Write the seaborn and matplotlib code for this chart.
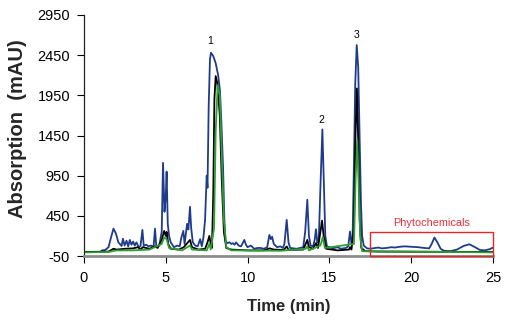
import numpy as np
import pandas as pd
import matplotlib
matplotlib.use("Agg")
import matplotlib.pyplot as plt
import seaborn as sns
from matplotlib.patches import Rectangle

# ---- data ----
blue_t = [0.0, 1.0, 1.1, 1.3, 1.5, 1.65, 1.8, 1.95, 2.1, 2.3, 2.38, 2.48, 2.6, 2.7, 2.8, 2.9,
          3.0, 3.1, 3.2, 3.35, 3.45, 3.57, 3.65, 3.8, 3.95, 4.1, 4.25, 4.34, 4.42, 4.6, 4.75,
          4.83, 4.92, 5.0, 5.05, 5.12, 5.2, 5.3, 5.5, 5.7, 5.85, 5.95, 6.07, 6.15, 6.3, 6.38,
          6.48, 6.55, 6.65, 6.8, 6.95, 7.1, 7.2, 7.3, 7.4, 7.5, 7.55, 7.62, 7.7, 7.76, 7.9,
          8.05, 8.2, 8.31, 8.4, 8.5, 8.58, 8.65, 8.75, 8.9, 9.0, 9.1, 9.2, 9.3, 9.45, 9.6,
          9.8, 9.9, 10.0, 10.2, 10.4, 10.6, 10.8, 11.0, 11.2, 11.33, 11.42, 11.5, 11.6, 11.8,
          12.0, 12.15, 12.25, 12.39, 12.5, 12.6, 12.8, 13.0, 13.2, 13.4, 13.52, 13.65, 13.75,
          13.85, 14.0, 14.1, 14.18, 14.26, 14.35, 14.45, 14.57, 14.67, 14.75, 14.85, 15.0,
          15.2, 15.5, 15.7, 16.0, 16.15, 16.26, 16.35, 16.42, 16.5, 16.58, 16.67, 16.76,
          16.85, 16.93, 17.0, 17.1, 17.3, 17.5, 17.8, 18.0, 18.2, 18.5, 18.8, 19.0, 19.3,
          19.6, 20.0, 20.4, 20.8, 21.1, 21.25, 21.42, 21.6, 21.8, 22.0, 22.4, 22.8, 23.2,
          23.55, 23.9, 24.2, 24.5, 24.8, 25.0]
blue_v = [0, 0, 20, 25, 60, 180, 290, 230, 120, 75, 165, 80, 140, 70, 150, 90,
          130, 80, 120, 60, 70, 275, 80, 90, 70, 80, 60, 290, 70, 80, 250,
          1110, 500, 700, 1000, 350, 200, 120, 60, 80, 70, 180, 262, 100, 350, 280,
          562, 300, 120, 80, 70, 160, 70, 180, 400, 950, 800, 1800, 2400, 2480, 2440,
          2350, 2200, 2010, 1600, 1050, 400, 140, 110, 120, 100, 110, 90, 120, 80, 70,
          150, 90, 60, 80, 40, 50, 50, 40, 60, 212, 160, 190, 100, 60,
          70, 50, 100, 400, 120, 50, 45, 40, 50, 60, 250, 650, 200,
          80, 70, 150, 284, 120, 150, 800, 1525, 800, 200, 70, 60,
          45, 60, 40, 50, 70, 255, 100, 200, 1100, 2100, 2575, 2300,
          1400, 600, 200, 80, 45, 40, 50, 55, 45, 50, 60, 55, 65,
          70, 65, 60, 50, 45, 100, 180, 120, 40, 15, 10, 30, 75,
          96, 60, 25, 20, 35, 55]

black_t = [0, 1.5, 1.8, 2.0, 2.5, 3.0, 3.3, 3.45, 3.6, 4.0, 4.34, 4.5, 4.75, 4.9, 5.0, 5.05,
           5.15, 5.3, 5.8, 6.1, 6.48, 6.6, 7.0, 7.4, 7.55, 7.66, 7.75, 7.82, 7.9, 7.97, 8.05,
           8.15, 8.3, 8.42, 8.55, 8.7, 9.0, 10.0, 11.0, 11.35, 11.6, 12.2, 12.39, 12.5, 13.4,
           13.55, 13.65, 13.75, 14.0, 14.18, 14.3, 14.45, 14.55, 14.65, 14.8, 15.5, 16.2,
           16.26, 16.35, 16.5, 16.6, 16.68, 16.76, 16.85, 16.95, 17.2, 18.0, 25.0]
black_v = [0, 5, 40, 30, 40, 45, 60, 30, 60, 40, 70, 50, 150, 262, 200, 250,
           100, 40, 30, 60, 150, 60, 30, 40, 120, 200, 100, 50, 700, 1900, 2190,
           2100, 1700, 900, 250, 50, 30, 20, 20, 45, 30, 25, 70, 25, 30,
           100, 150, 60, 40, 110, 50, 250, 390, 200, 40, 20, 30,
           60, 30, 300, 1500, 2035, 1400, 400, 50, 10, 5, 0]

green_t = [0, 1.5, 2.0, 3.0, 4.0, 4.75, 4.9, 5.05, 5.2, 6.0, 6.48, 6.6, 7.5, 7.66, 7.75, 7.95,
           8.05, 8.17, 8.3, 8.42, 8.55, 8.7, 9.0, 12.0, 13.55, 13.65, 13.75, 14.45, 14.6,
           14.72, 16.5, 16.6, 16.7, 16.78, 16.88, 17.0, 25.0]
green_v = [-5, 0, 20, 20, 30, 100, 180, 160, 50, 20, 80, 30, 20, 100, 30, 300,
           1500, 2075, 1950, 1200, 400, 60, 20, 15, 40, 70, 20, 80, 187,
           50, 100, 900, 1390, 900, 200, 10, -5]

peak_labels = ["1", "2", "3"]
peak_t = [7.74, 14.53, 16.63]
peak_v = [2625, 1637, 2700]

x_ticks = [0, 5, 10, 15, 20, 25]
y_ticks = [-50, 450, 950, 1450, 1950, 2450, 2950]

box_t = [17.48, 25.0]
box_v = [-50, 245]
box_label = "Phytochemicals"

# ---- figure ----
sns.set_theme(style="white")
plt.rcParams['font.family'] = ['Liberation Sans', 'DejaVu Sans']
plt.rcParams['axes.unicode_minus'] = False

fig = plt.figure(figsize=(5.11, 3.22), dpi=100)
W, H = 511, 322
ax = fig.add_axes([84 / W, 1 - 256 / H, (493 - 84) / W, (256 - 15) / H])

df_b = pd.DataFrame({"t": blue_t, "v": blue_v})
df_k = pd.DataFrame({"t": black_t, "v": black_v})
df_g = pd.DataFrame({"t": green_t, "v": green_v})

sns.lineplot(data=df_b, x="t", y="v", ax=ax, color="#1f3c8c", lw=1.3, estimator=None, sort=False)
sns.lineplot(data=df_k, x="t", y="v", ax=ax, color="#000000", lw=1.3, estimator=None, sort=False)
sns.lineplot(data=df_g, x="t", y="v", ax=ax, color="#2e9e2e", lw=1.3, estimator=None, sort=False)

for lab, t, v in zip(peak_labels, peak_t, peak_v):
    ax.text(t, v, lab, ha="center", va="center", fontsize=7.5, color="black")

ax.add_patch(Rectangle((box_t[0], box_v[0]), box_t[1] - box_t[0], box_v[1] - box_v[0],
                       fill=False, edgecolor="#e02828", lw=1.0, clip_on=False, zorder=5))
ax.text((box_t[0] + box_t[1]) / 2, 360, box_label, ha="center", va="center",
        fontsize=7.8, color="#e8303a")

ax.set_xlim(0, 25)
ax.set_ylim(-50, 2950)
ax.set_xticks(x_ticks)
ax.set_yticks(y_ticks)
ax.tick_params(axis="both", labelsize=10.5, colors="black", length=5, width=0.8,
               direction="out", left=True, bottom=True)
ax.tick_params(axis="x", pad=6)
ax.tick_params(axis="y", pad=5)

for s in ["top", "right"]:
    ax.spines[s].set_visible(False)
ax.spines["left"].set_color("#222222")
ax.spines["left"].set_linewidth(0.9)
ax.spines["bottom"].set_color("#8c8c8c")
ax.spines["bottom"].set_linewidth(2.0)

ax.set_xlabel("Time (min)", fontsize=12, fontweight="bold", labelpad=10)
ax.set_ylabel("Absorption  (mAU)", fontsize=14.5, fontweight="bold", labelpad=8)
ax.yaxis.set_label_coords(-0.14, 0.53)

fig.savefig("out.png", dpi=100)
